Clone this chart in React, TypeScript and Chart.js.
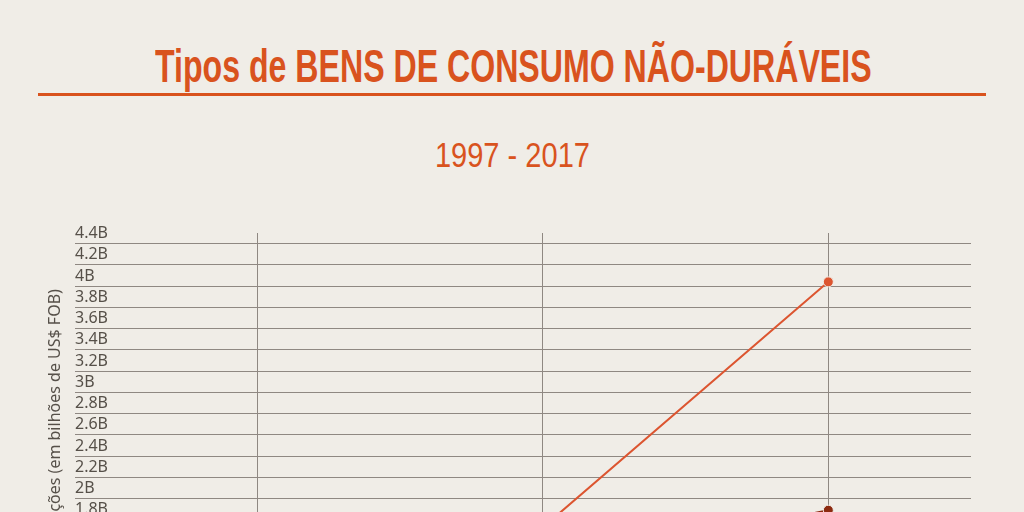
import React, { useEffect, useRef } from 'react';
import { Chart, registerables } from 'chart.js';

Chart.register(...registerables);

// Years on the x axis and values in billions of US$ FOB
const years = [1997, 2007, 2017];
const upperSeries = [1.05, 1.73, 4.04];
const lowerSeries = [0.9, 1.35, 1.89];
const seriesNames = ['Bens de consumo não-duráveis', 'Outros'];
const yTickValues = [0.8, 1, 1.2, 1.4, 1.6, 1.8, 2, 2.2, 2.4, 2.6, 2.8, 3, 3.2, 3.4, 3.6, 3.8, 4, 4.2, 4.4];
const yTitle = 'Exportações (em bilhões de US$ FOB)';

const BG = '#f0ede7';
const ORANGE = '#d9531e';
const LINE_ORANGE = '#dc5530';
const DARK = '#8c2a10';
const GRID = '#8f8882';
const TEXT = '#565049';

const App: React.FC = () => {
  const chartRef = useRef<HTMLCanvasElement>(null);
  const chartInstance = useRef<Chart | null>(null);

  useEffect(() => {
    if (!chartRef.current) return;
    if (chartInstance.current) chartInstance.current.destroy();
    const ctx = chartRef.current.getContext('2d');
    if (!ctx) return;

    chartInstance.current = new Chart(ctx, {
      type: 'line',
      data: {
        datasets: [
          {
            label: seriesNames[0],
            data: years.map((x, i) => ({ x, y: upperSeries[i] })),
            borderColor: LINE_ORANGE,
            backgroundColor: LINE_ORANGE,
            borderWidth: 2,
            pointRadius: 5,
            pointBorderWidth: 1,
            pointBorderColor: BG,
            pointBackgroundColor: LINE_ORANGE,
            tension: 0
          },
          {
            label: seriesNames[1],
            data: years.map((x, i) => ({ x, y: lowerSeries[i] })),
            borderColor: DARK,
            backgroundColor: DARK,
            borderWidth: 2,
            pointRadius: 5,
            pointBorderWidth: 1,
            pointBorderColor: BG,
            pointBackgroundColor: DARK,
            tension: 0
          }
        ]
      },
      options: {
        animation: false,
        responsive: true,
        maintainAspectRatio: false,
        layout: { padding: { left: 0, right: 53, top: 33, bottom: 20 } },
        plugins: {
          legend: { display: false },
          tooltip: { enabled: false }
        },
        scales: {
          x: {
            type: 'linear',
            min: 1990.6,
            max: 2022,
            afterBuildTicks: (scale: any) => {
              scale.ticks = years.map(v => ({ value: v }));
            },
            afterFit: (scale: any) => {
              scale.height = 30;
            },
            border: { display: false },
            grid: { color: GRID, lineWidth: 1, drawTicks: false },
            ticks: {
              autoSkip: false,
              color: TEXT,
              font: { family: 'Noto Sans', size: 15 },
              callback: (v: any) => String(v)
            }
          },
          y: {
            min: 0.8,
            max: 4.5,
            afterBuildTicks: (scale: any) => {
              scale.ticks = yTickValues.map(v => ({ value: v }));
            },
            afterFit: (scale: any) => {
              scale.width = 75;
            },
            border: { display: false },
            grid: { color: GRID, lineWidth: 1, drawTicks: false },
            ticks: {
              autoSkip: false,
              mirror: true,
              padding: 0,
              labelOffset: -10,
              color: TEXT,
              font: { family: 'Noto Sans', size: 16 },
              callback: (v: any) => `${Math.round(Number(v) * 10) / 10}B`
            },
            title: {
              display: true,
              text: yTitle,
              color: TEXT,
              font: { family: 'Noto Sans', size: 16 },
              padding: { top: 46, bottom: 0 }
            }
          }
        }
      }
    });

    return () => {
      if (chartInstance.current) {
        chartInstance.current.destroy();
        chartInstance.current = null;
      }
    };
  }, []);

  const narrow = '"Liberation Sans", Arial, sans-serif';

  return (
    <div style={{ position: 'fixed', left: 0, top: 0, width: 1024, height: 512, overflow: 'hidden', background: BG }}>
      <div style={{ position: 'absolute', left: 0, top: 43, width: 1024, textAlign: 'center', lineHeight: 1 }}>
        <span
          style={{
            display: 'inline-block', transform: 'scaleX(0.698)', transformOrigin: 'center',
            fontFamily: narrow, fontWeight: 'bold', fontSize: 46, color: ORANGE, whiteSpace: 'nowrap'
          }}
        >
          Tipos de BENS DE CONSUMO NÃO-DURÁVEIS
        </span>
      </div>
      <div style={{ position: 'absolute', left: 38, top: 93, width: 948, height: 3, background: ORANGE }} />
      <div style={{ position: 'absolute', left: 0, top: 137, width: 1024, textAlign: 'center', lineHeight: 1 }}>
        <span
          style={{
            display: 'inline-block', transform: 'scaleX(0.83)', transformOrigin: 'center',
            fontFamily: narrow, fontSize: 35, color: ORANGE, whiteSpace: 'nowrap'
          }}
        >
          1997 - 2017
        </span>
      </div>
      <div style={{ position: 'absolute', left: 0, top: 200, width: 1024, height: 476 }}>
        <canvas ref={chartRef} />
      </div>
    </div>
  );
};

export default App;
